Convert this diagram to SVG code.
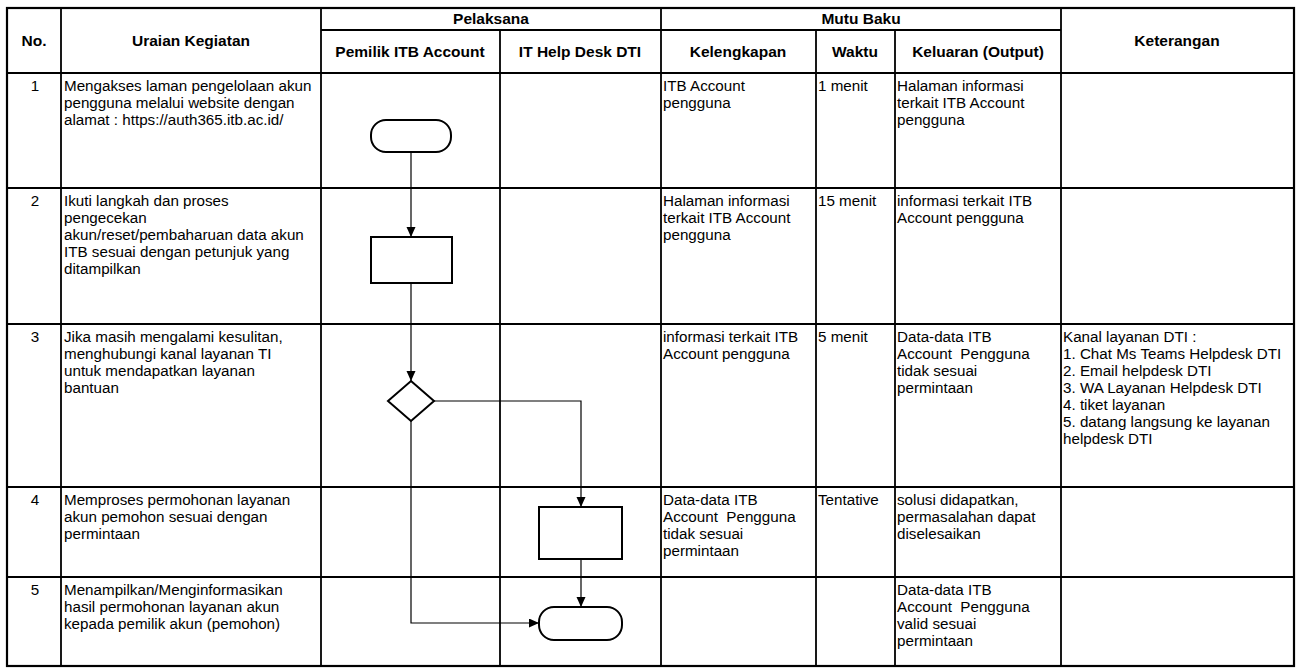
<svg xmlns="http://www.w3.org/2000/svg" width="1299" height="670" viewBox="0 0 1299 670">
<style>
.grid{stroke:#000;stroke-width:1.8;fill:none}
.outer{stroke:#000;stroke-width:2.2;fill:none}
.shape{stroke:#000;stroke-width:2;fill:#fff}
.conn{stroke:#000;stroke-width:1.2;fill:none}
text{font-family:"Liberation Sans",Arial,sans-serif;fill:#000}
.t{font-size:15.2px}
.h{font-size:15.5px;font-weight:bold;text-anchor:middle}
.c{text-anchor:middle}
.pre{white-space:pre}
</style>
<defs>
<marker id="arr" markerUnits="userSpaceOnUse" markerWidth="10" markerHeight="10" refX="10" refY="4.5" orient="auto">
<path d="M0,0 L10,4.5 L0,9 Z" fill="#000"/>
</marker>
</defs>
<rect width="1299" height="670" fill="#fff"/>
<g id="table">
<rect class="outer" x="7" y="8" width="1287" height="658"/>
<path class="grid" d="M321,30H1061M7,73H1294M7,188H1294M7,324H1294M7,487H1294M7,577H1294M61,8V666M321,8V666M500,30V666M661,8V666M816,30V666M895,30V666M1061,8V666"/>
</g>
<g id="header">
<text class="h" x="34" y="46">No.</text>
<text class="h" x="191" y="46">Uraian Kegiatan</text>
<text class="h" x="491" y="24">Pelaksana</text>
<text class="h" x="410" y="57">Pemilik ITB Account</text>
<text class="h" x="580" y="57">IT Help Desk DTI</text>
<text class="h" x="861" y="24">Mutu Baku</text>
<text class="h" x="738" y="57">Kelengkapan</text>
<text class="h" x="855" y="57">Waktu</text>
<text class="h" x="978" y="57">Keluaran (Output)</text>
<text class="h" x="1177" y="46">Keterangan</text>
</g>
<g id="row1" class="t">
<text class="c" x="35" y="91">1</text>
<text x="64" y="91">Mengakses laman pengelolaan akun</text>
<text x="64" y="108">pengguna melalui website dengan</text>
<text x="64" y="125">alamat : https://auth365.itb.ac.id/</text>
<text x="663" y="91">ITB Account</text>
<text x="663" y="108">pengguna</text>
<text x="818" y="91">1 menit</text>
<text x="897" y="91">Halaman informasi</text>
<text x="897" y="108">terkait ITB Account</text>
<text x="897" y="125">pengguna</text>
</g>
<g id="row2" class="t">
<text class="c" x="35" y="206">2</text>
<text x="64" y="206">Ikuti langkah dan proses</text>
<text x="64" y="223">pengecekan</text>
<text x="64" y="240">akun/reset/pembaharuan data akun</text>
<text x="64" y="257">ITB sesuai dengan petunjuk yang</text>
<text x="64" y="274">ditampilkan</text>
<text x="663" y="206">Halaman informasi</text>
<text x="663" y="223">terkait ITB Account</text>
<text x="663" y="240">pengguna</text>
<text x="818" y="206">15 menit</text>
<text x="897" y="206">informasi terkait ITB</text>
<text x="897" y="223">Account pengguna</text>
</g>
<g id="row3" class="t">
<text class="c" x="35" y="342">3</text>
<text x="64" y="342">Jika masih mengalami kesulitan,</text>
<text x="64" y="359">menghubungi kanal layanan TI</text>
<text x="64" y="376">untuk mendapatkan layanan</text>
<text x="64" y="393">bantuan</text>
<text x="663" y="342">informasi terkait ITB</text>
<text x="663" y="359">Account pengguna</text>
<text x="818" y="342">5 menit</text>
<text x="897" y="342">Data-data ITB</text>
<text class="pre" x="897" y="359">Account  Pengguna</text>
<text x="897" y="376">tidak sesuai</text>
<text x="897" y="393">permintaan</text>
<text x="1063" y="342">Kanal layanan DTI :</text>
<text x="1063" y="359">1. Chat Ms Teams Helpdesk DTI</text>
<text x="1063" y="376">2. Email helpdesk DTI</text>
<text x="1063" y="393">3. WA Layanan Helpdesk DTI</text>
<text x="1063" y="410">4. tiket layanan</text>
<text x="1063" y="427">5. datang langsung ke layanan</text>
<text x="1063" y="444">helpdesk DTI</text>
</g>
<g id="row4" class="t">
<text class="c" x="35" y="505">4</text>
<text x="64" y="505">Memproses permohonan layanan</text>
<text x="64" y="522">akun pemohon sesuai dengan</text>
<text x="64" y="539">permintaan</text>
<text x="663" y="505">Data-data ITB</text>
<text class="pre" x="663" y="522">Account  Pengguna</text>
<text x="663" y="539">tidak sesuai</text>
<text x="663" y="556">permintaan</text>
<text x="818" y="505">Tentative</text>
<text x="897" y="505">solusi didapatkan,</text>
<text x="897" y="522">permasalahan dapat</text>
<text x="897" y="539">diselesaikan</text>
</g>
<g id="row5" class="t">
<text class="c" x="35" y="595">5</text>
<text x="64" y="595">Menampilkan/Menginformasikan</text>
<text x="64" y="612">hasil permohonan layanan akun</text>
<text x="64" y="629">kepada pemilik akun (pemohon)</text>
<text x="897" y="595">Data-data ITB</text>
<text class="pre" x="897" y="612">Account  Pengguna</text>
<text x="897" y="629">valid sesuai</text>
<text x="897" y="646">permintaan</text>
</g>
<g id="connectors">
<path class="conn" d="M411,152V237" marker-end="url(#arr)"/>
<path class="conn" d="M411,283V381" marker-end="url(#arr)"/>
<path class="conn" d="M434,401H581V507" marker-end="url(#arr)"/>
<path class="conn" d="M581,559V607" marker-end="url(#arr)"/>
<path class="conn" d="M411,421V623H539" marker-end="url(#arr)"/>
</g>
<g id="start"><rect class="shape" x="371" y="120" width="80" height="32" rx="15"/></g>
<g id="step2"><rect class="shape" x="371" y="237" width="81" height="46"/></g>
<g id="decision"><path class="shape" d="M411,381L434,401L411,421L388,401Z"/></g>
<g id="step4"><rect class="shape" x="539" y="507" width="83" height="52"/></g>
<g id="end"><rect class="shape" x="539" y="607" width="83" height="33" rx="15"/></g>
</svg>
